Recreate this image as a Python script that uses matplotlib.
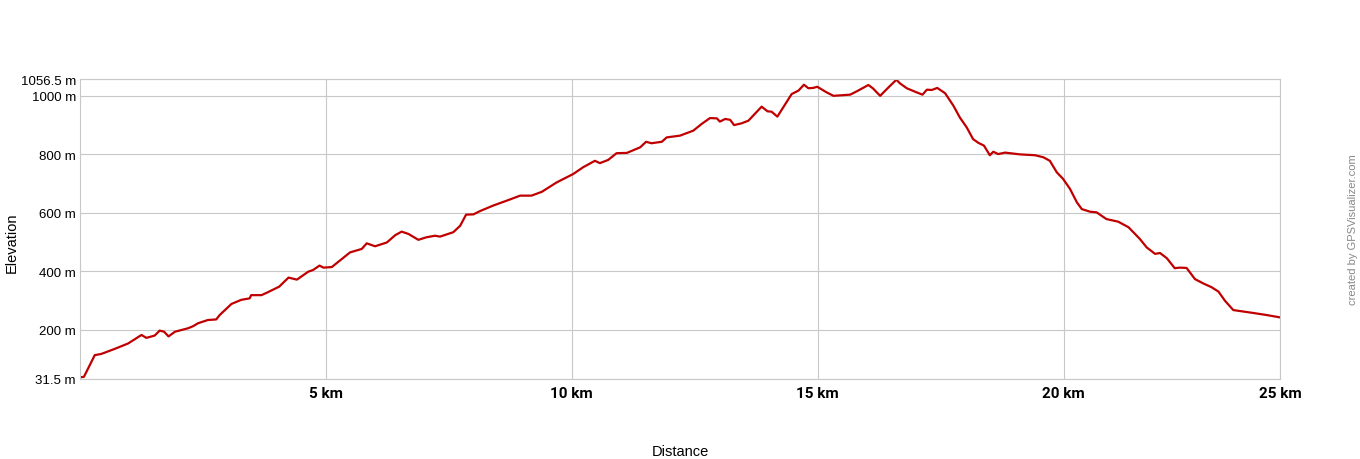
import matplotlib
matplotlib.use("Agg")
import matplotlib.pyplot as plt

# elevation profile (km, m)
distance_km = [0.00, 0.08, 0.16, 0.30, 0.43, 0.70, 0.98, 1.25, 1.35, 1.52, 1.62, 1.71, 1.80, 1.93,
               2.20, 2.30, 2.40, 2.60, 2.77, 2.84, 3.08, 3.28, 3.45, 3.48, 3.69, 3.82, 4.05,
               4.24, 4.41, 4.64, 4.74, 4.87, 4.95, 5.12, 5.32, 5.49, 5.73, 5.83, 6.00, 6.24,
               6.41, 6.54, 6.68, 6.88, 7.05, 7.22, 7.32, 7.59, 7.73, 7.85, 8.00, 8.13,
               8.40, 8.68, 8.95, 9.18, 9.39, 9.69, 10.03, 10.23, 10.47, 10.57, 10.74, 10.91,
               11.12, 11.39, 11.51, 11.62, 11.83, 11.93, 12.20,
               12.47, 12.64, 12.81, 12.95, 13.01, 13.12, 13.22, 13.30, 13.45, 13.59, 13.73,
               13.86, 13.98, 14.06, 14.18, 14.30, 14.47, 14.61, 14.72, 14.81, 14.91, 14.99,
               15.18, 15.32, 15.66, 15.79, 16.03, 16.12, 16.27,
               16.44, 16.60, 16.67, 16.81, 16.98, 17.13, 17.22, 17.32, 17.43, 17.59, 17.76,
               17.89, 18.03, 18.16, 18.27, 18.38, 18.50, 18.57, 18.67, 18.81, 19.11, 19.42,
               19.59, 19.72, 19.86, 19.99, 20.13, 20.27, 20.37, 20.54, 20.67, 20.87, 21.11,
               21.32, 21.55, 21.69, 21.86, 21.96, 22.10, 22.26, 22.36, 22.50, 22.67, 22.84,
               23.01, 23.15, 23.28, 23.45, 23.62, 23.86, 24.13, 24.40]
elevation_m = [37, 39, 66, 113, 117, 134, 153, 182, 172, 180, 197, 193, 177, 193,
               205, 212, 222, 233, 235, 250, 288, 302, 307, 318, 318, 328, 347,
               378, 371, 398, 404, 419, 412, 414, 441, 464, 476, 495, 485, 498,
               523, 535, 527, 507, 516, 521, 518, 533, 555, 593, 594, 605,
               624, 641, 658, 658, 671, 703, 732, 755, 777, 769, 780, 803,
               804, 823, 842, 837, 842, 857, 863,
               880, 903, 923, 922, 911, 920, 917, 899, 905, 914, 939,
               962, 946, 945, 928, 960, 1005, 1017, 1037, 1025, 1026, 1030,
               1011, 999, 1003, 1014, 1036, 1025, 999,
               1028, 1054, 1042, 1025, 1013, 1003, 1020, 1019, 1026, 1008, 965,
               925, 891, 851, 838, 829, 796, 808, 800, 805, 799, 796,
               789, 777, 738, 715, 681, 635, 612, 603, 601, 578, 569,
               550, 510, 481, 459, 462, 444, 410, 412, 411, 373, 358,
               345, 330, 299, 267, 263, 257, 250, 242]

y_ticks = [31.5, 200, 400, 600, 800, 1000, 1056.5]
y_labels = ["31.5 m", "200 m", "400 m", "600 m", "800 m", "1000 m", "1056.5 m"]
x_ticks = [5, 10, 15, 20, 24.4]
x_labels = ["5 km", "10 km", "15 km", "20 km", "25 km"]

fig = plt.figure(figsize=(13.6, 4.6), dpi=100)
ax = fig.add_axes([80 / 1360, 1 - 380 / 460, 1200 / 1360, 300 / 460])

ax.plot(distance_km, elevation_m, color="#c00000", lw=1.6, solid_joinstyle="round")
ax.set_xlim(0, 24.4)
ax.set_ylim(31.5, 1056.5)

ax.set_yticks(y_ticks)
ax.set_yticklabels(y_labels, family="Liberation Sans", fontsize=9.5)
ax.set_xticks(x_ticks)
ax.set_xticklabels(x_labels, family="Roboto", fontweight="bold", fontsize=11)
ax.tick_params(length=0, pad=3)
ax.tick_params(axis="x", pad=5)

ax.grid(True, color="#c8c8c8", lw=0.8)
ax.set_axisbelow(True)
for s in ax.spines.values():
    s.set_color("#c8c8c8")
    s.set_linewidth(0.8)

fig.text(12 / 1360, 1 - 243 / 460, "Elevation", rotation=90, ha="center", va="center",
         family="Liberation Sans", fontsize=10.5)
fig.text(680 / 1360, 1 - 452 / 460, "Distance", ha="center", va="center",
         family="Liberation Sans", fontsize=10.5)
fig.text(1353 / 1360, 1 - 230 / 460, "created by GPSVisualizer.com", rotation=90,
         ha="center", va="center", family="Liberation Sans", fontsize=8, color="#888888")

fig.savefig("out.png", dpi=100)
